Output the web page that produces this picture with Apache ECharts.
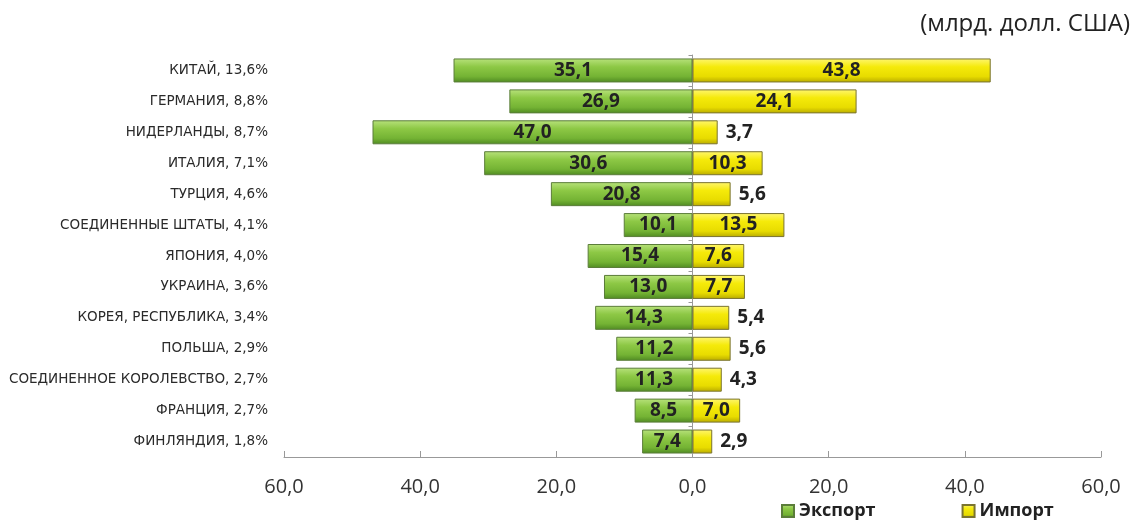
<!DOCTYPE html>
<html><head><meta charset="utf-8">
<script src="https://cdn.jsdelivr.net/npm/echarts@6/dist/echarts.min.js"></script>
<style>html,body{margin:0;padding:0;background:#fff}#c{width:1142px;height:525px}</style>
</head><body><div id="c"></div>
<script>
const categories = ["КИТАЙ, 13,6%","ГЕРМАНИЯ, 8,8%","НИДЕРЛАНДЫ, 8,7%","ИТАЛИЯ, 7,1%","ТУРЦИЯ, 4,6%","СОЕДИНЕННЫЕ ШТАТЫ, 4,1%","ЯПОНИЯ, 4,0%","УКРАИНА, 3,6%","КОРЕЯ, РЕСПУБЛИКА, 3,4%","ПОЛЬША, 2,9%","СОЕДИНЕННОЕ КОРОЛЕВСТВО, 2,7%","ФРАНЦИЯ, 2,7%","ФИНЛЯНДИЯ, 1,8%"];
const exportValues = [35.1,26.9,47.0,30.6,20.8,10.1,15.4,13.0,14.3,11.2,11.3,8.5,7.4];
const importValues = [43.8,24.1,3.7,10.3,5.6,13.5,7.6,7.7,5.4,5.6,4.3,7.0,2.9];
const xTicks = [-60,-40,-20,0,20,40,60];

const fmt = v => Math.abs(v).toFixed(1).replace('.', ',');
const chart = echarts.init(document.getElementById('c'));
const greenGrad = new echarts.graphic.LinearGradient(0,0,0,1,[
  {offset:0,color:'#b8e27c'},{offset:0.35,color:'#8dc845'},{offset:0.75,color:'#74b334'},{offset:1,color:'#4f8a22'}]);
const yellowGrad = new echarts.graphic.LinearGradient(0,0,0,1,[
  {offset:0,color:'#fff670'},{offset:0.35,color:'#f5ea0a'},{offset:0.75,color:'#e8dc00'},{offset:1,color:'#b8aa00'}]);
const labelFont = {fontFamily:'"Open Sans", sans-serif', fontWeight:'bold', fontSize:19, color:'#222'};

chart.setOption({
  animation:false,
  title:{text:'(млрд. долл. США)', right:7, top:7,
    textStyle:{fontFamily:'"Open Sans", sans-serif', fontWeight:'normal', fontSize:24, color:'#222'}},
  legend:{left:781, top:502, padding:0, itemWidth:12, itemHeight:12, itemGap:86,
    textStyle:{fontFamily:'"Open Sans", sans-serif', fontWeight:'bold', fontSize:18, color:'#222'},
    data:[{name:'Экспорт', icon:'rect'},{name:'Импорт', icon:'rect'}]},
  grid:{left:284, right:41, top:55, bottom:68, containLabel:false},
  xAxis:{type:'value', min:-60, max:60, interval:20,
    axisLine:{show:true, onZero:false, lineStyle:{color:'#999'}},
    axisTick:{show:true, inside:true, length:6, lineStyle:{color:'#999'}},
    splitLine:{show:false},
    axisLabel:{formatter:fmt, margin:20, fontFamily:'"Open Sans", sans-serif', fontSize:20, color:'#333',
      customValues: xTicks}},
  yAxis:[
    {type:'category', data:categories, inverse:true,
      axisLine:{show:false, onZero:false}, axisTick:{show:false},
      axisLabel:{margin:16, fontFamily:'"DejaVu Sans", sans-serif', fontSize:13.5, color:'#2a2a2a'}},
    {type:'category', data:categories, inverse:true, position:'left',
      axisLine:{show:true, onZero:true, lineStyle:{color:'#999'}},
      axisTick:{show:true, length:4, lineStyle:{color:'#999'}},
      axisLabel:{show:false}}
  ],
  series:[
    {name:'Экспорт', type:'bar', stack:'s', barWidth:24, yAxisIndex:0,
      data: exportValues.map(v => -v),
      itemStyle:{color:greenGrad, borderColor:'#5b7d3a', borderWidth:1},
      label:Object.assign({show:true, position:'inside', formatter:p => fmt(p.value)}, labelFont)},
    {name:'Импорт', type:'bar', stack:'s', barWidth:24, yAxisIndex:0,
      data: importValues.map(v => ({value:v, label:{position: v < 6.5 ? 'right' : 'inside', distance:8}})),
      itemStyle:{color:yellowGrad, borderColor:'#7a7430', borderWidth:1},
      label:Object.assign({show:true, formatter:p => fmt(p.value)}, labelFont)}
  ]
});
</script></body></html>
